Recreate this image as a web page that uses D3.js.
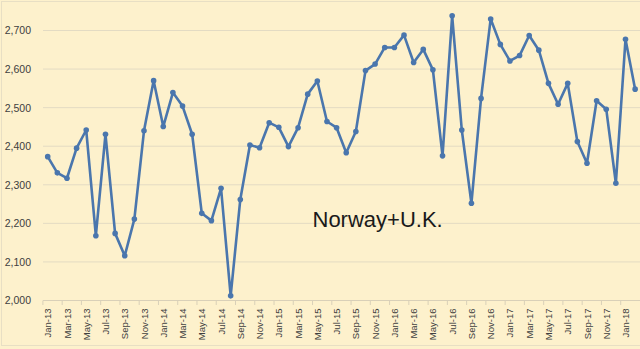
<!DOCTYPE html>
<html><head><meta charset="utf-8">
<script src="https://cdn.jsdelivr.net/npm/d3@7/dist/d3.min.js"></script>
<style>html,body{margin:0;padding:0;background:#fdf1cc;}svg{display:block;}</style>
</head><body><svg id="c" width="640" height="349"></svg>
<script>
const months = ["Jan-13","Feb-13","Mar-13","Apr-13","May-13","Jun-13","Jul-13","Aug-13","Sep-13","Oct-13","Nov-13","Dec-13",
"Jan-14","Feb-14","Mar-14","Apr-14","May-14","Jun-14","Jul-14","Aug-14","Sep-14","Oct-14","Nov-14","Dec-14",
"Jan-15","Feb-15","Mar-15","Apr-15","May-15","Jun-15","Jul-15","Aug-15","Sep-15","Oct-15","Nov-15","Dec-15",
"Jan-16","Feb-16","Mar-16","Apr-16","May-16","Jun-16","Jul-16","Aug-16","Sep-16","Oct-16","Nov-16","Dec-16",
"Jan-17","Feb-17","Mar-17","Apr-17","May-17","Jun-17","Jul-17","Aug-17","Sep-17","Oct-17","Nov-17","Dec-17",
"Jan-18","Feb-18"];
const production = [2373,2331,2317,2395,2442,2168,2431,2174,2116,2211,2440,2570,
2451,2539,2504,2431,2226,2207,2291,2012,2262,2403,2396,2461,
2449,2399,2448,2535,2569,2464,2448,2383,2438,2596,2613,2656,
2656,2688,2617,2651,2598,2375,2738,2442,2252,2524,2730,2664,
2621,2635,2687,2649,2563,2509,2563,2412,2356,2518,2496,2304,
2677,2548];
const yTicks = [2000,2100,2200,2300,2400,2500,2600,2700];
const tickLabels = months.filter((m,i)=>i%2===0);
const title = "Norway+U.K.";

const svg = d3.select("#c");
svg.append("rect").attr("x",0).attr("y",0).attr("width",640).attr("height",349).attr("fill","#fdf1cc");
svg.append("rect").attr("x",1.5).attr("y",1.5).attr("width",640).attr("height",344).attr("fill","none").attr("stroke","#e8dfc4").attr("stroke-width",1);

const x = d3.scalePoint().domain(months).range([47.7, 47.7 + 9.63*61]);
const y = d3.scaleLinear().domain([2000,2700]).range([300.5,30.5]);

// gridlines
svg.append("g").selectAll("line").data(yTicks.slice(1)).join("line")
  .attr("x1",43).attr("x2",640).attr("y1",d=>y(d)).attr("y2",d=>y(d))
  .attr("stroke","#e3dbc3").attr("stroke-width",1);

// y axis labels
const yAxis = d3.axisLeft(y).tickValues(yTicks).tickFormat(d3.format(",")).tickSize(0).tickPadding(12);
const ya = svg.append("g").attr("transform","translate(43,0)").call(yAxis);
ya.select(".domain").remove();
ya.selectAll("text").attr("font-family","Liberation Sans, Arial, sans-serif").attr("font-size","10.5px").attr("fill","#404040");

// x axis
const xAxis = d3.axisBottom(x).tickValues(tickLabels).tickSize(0).tickPadding(6);
const xa = svg.append("g").attr("transform","translate(0,300.5)").call(xAxis);
xa.select(".domain").remove();
svg.append("line").attr("x1",43).attr("x2",640).attr("y1",300.5).attr("y2",300.5).attr("stroke","#d9d0b8");
xa.selectAll("text").attr("font-family","Liberation Sans, Arial, sans-serif").attr("font-size","9.5px").attr("fill","#404040")
  .attr("transform","rotate(-90)").attr("text-anchor","end").attr("dy","0.32em").attr("x",-8).attr("y",0);
// tick marks
svg.append("g").selectAll("line").data(months.filter((m,i)=>i%2===0)).join("line")
  .attr("x1",d=>x(d)-4.8).attr("x2",d=>x(d)-4.8).attr("y1",300.5).attr("y2",305).attr("stroke","#d9d0b8");

// line
const line = d3.line().x((d,i)=>x(months[i])).y(d=>y(d));
svg.append("path").datum(production).attr("d",line).attr("fill","none")
  .attr("stroke","#4a76ad").attr("stroke-width",2.6).attr("stroke-linejoin","round");
svg.append("g").selectAll("circle").data(production).join("circle")
  .attr("cx",(d,i)=>x(months[i])).attr("cy",d=>y(d)).attr("r",2.8).attr("fill","#4a76ad");

svg.append("text").attr("x",312.5).attr("y",227.3).attr("font-family","Liberation Sans, Arial, sans-serif")
  .attr("font-size","22px").attr("fill","#1a1a1a").text(title);
</script></body></html>
